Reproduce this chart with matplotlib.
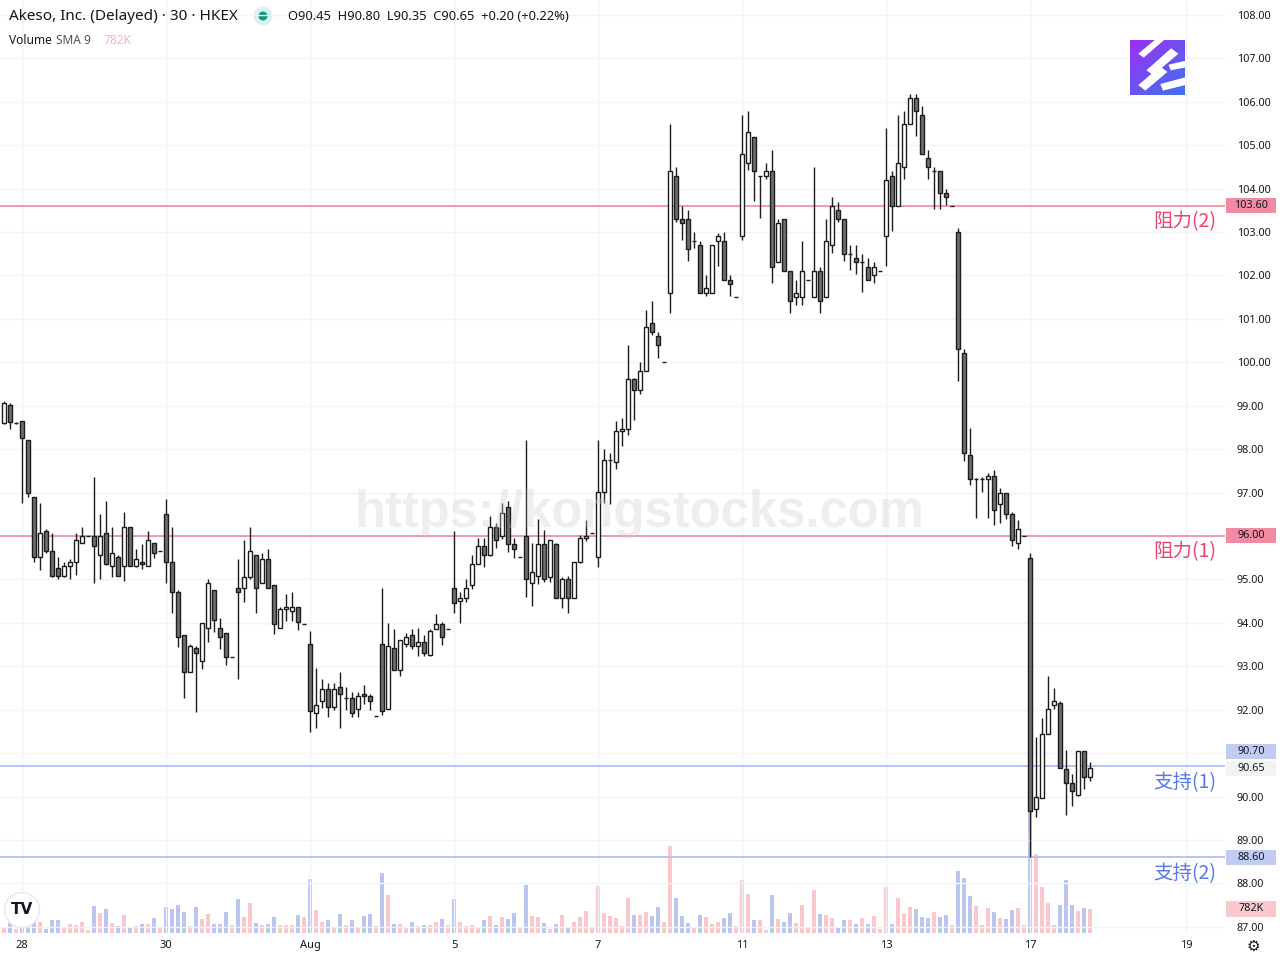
import matplotlib
matplotlib.use('Agg')
import matplotlib.pyplot as plt
import matplotlib.transforms as mtrans
from matplotlib.patches import Rectangle, Circle, Polygon
import numpy as np

# ---------------- data (30-minute bars, index 0 = first bar of Jul 28) ----------------
bar_index = list(range(-3, 179))

opens = [
    98.60, 99.02, 98.60,
    98.64, 98.20, 96.89, 95.51, 96.11, 95.65, 95.26, 95.09, 95.30, 95.39, 95.85, 95.99,
    95.99, 95.56, 96.06, 95.30, 95.51, 95.30, 96.20, 95.30, 95.39, 95.30, 95.85, 95.65,
    96.50, 95.39, 94.70, 93.71, 92.86, 93.41, 93.11, 93.89, 94.75, 93.89, 93.76, 93.21,
    94.80, 94.80, 95.05, 95.56, 94.91, 95.46, 94.87, 93.89, 94.31, 94.27, 94.36, 93.97,
    93.51, 91.92, 92.21, 92.47, 92.06, 92.52, 92.27, 92.27, 92.01, 92.36, 92.31, 91.85,
    93.51, 92.01, 93.41, 92.91, 93.51, 93.71, 93.46, 93.55, 93.25, 93.85, 93.97, 93.85,
    94.80, 94.50, 94.57, 94.87, 95.35, 95.76, 95.56, 96.20, 95.99, 96.66, 95.81, 95.51,
    95.99, 94.91, 95.09, 95.81, 95.05, 95.81, 94.57, 95.00, 94.57, 95.39, 95.95, 96.06,
    95.51, 97.01, 97.74, 97.70, 98.41, 98.46, 99.61, 99.36, 99.79, 100.90, 100.60, 100.00,
    101.59, 104.29, 103.30, 103.30, 102.79, 102.70, 101.59, 101.59, 102.79, 102.79, 101.89, 101.50,
    102.90, 104.58, 105.19, 104.29, 104.29, 104.40, 102.30, 103.30, 102.10, 101.50, 101.50, 101.89,
    101.50, 102.10, 101.50, 102.70, 103.50, 103.30, 102.49, 102.40, 102.30, 102.19, 102.00, 102.10,
    102.90, 104.29, 103.60, 104.49, 105.48, 106.08, 105.69, 104.70, 104.40, 104.40, 103.89, 103.60,
    102.99, 100.21, 97.86, 97.31, 97.31, 97.31, 97.39, 96.74, 97.00, 96.50, 95.85, 95.99,
    95.50, 89.71, 89.96, 91.45, 92.10, 92.16, 90.63, 90.31, 90.04, 91.05, 90.45,
]

highs = [
    99.10, 99.06, 98.62,
    98.64, 98.20, 96.89, 96.75, 96.15, 96.06, 95.51, 95.40, 95.46, 96.06, 96.20, 95.99,
    97.35, 96.50, 96.80, 96.20, 95.56, 96.55, 96.20, 95.69, 95.81, 96.11, 95.85, 95.65,
    96.85, 96.20, 94.75, 93.71, 93.51, 93.46, 94.00, 95.00, 94.75, 94.11, 93.76, 93.21,
    95.46, 95.90, 96.21, 95.56, 95.60, 95.69, 94.87, 94.36, 94.66, 94.70, 94.36, 93.97,
    93.81, 92.95, 92.70, 92.61, 92.61, 92.86, 92.52, 92.40, 92.40, 92.57, 92.36, 91.85,
    94.80, 93.99, 93.85, 93.60, 93.76, 93.85, 93.89, 93.71, 93.85, 94.20, 94.01, 93.85,
    96.11, 94.70, 95.00, 95.56, 95.95, 95.95, 96.45, 96.29, 96.75, 96.80, 95.95, 95.51,
    98.20, 95.85, 96.38, 96.13, 95.90, 95.85, 95.05, 95.09, 95.39, 96.02, 96.37, 96.06,
    98.21, 98.00, 97.91, 98.64, 98.71, 100.39, 99.64, 100.00, 101.20, 101.41, 100.69, 100.00,
    105.48, 104.49, 103.60, 103.50, 103.00, 102.79, 102.00, 102.70, 102.98, 103.00, 102.00, 101.50,
    105.69, 105.78, 105.19, 104.29, 104.58, 104.88, 103.30, 103.30, 102.10, 101.89, 102.79, 101.89,
    104.49, 102.19, 103.30, 103.81, 103.69, 103.30, 102.70, 102.70, 102.49, 102.40, 102.30, 102.10,
    105.39, 104.40, 105.69, 105.78, 106.19, 106.19, 105.90, 104.88, 104.49, 104.40, 103.98, 103.60,
    103.09, 100.30, 98.48, 97.34, 97.36, 97.45, 97.52, 97.11, 97.00, 96.55, 96.36, 95.99,
    95.61, 91.37, 91.81, 92.77, 92.51, 92.21, 91.07, 90.51, 91.05, 91.05, 90.80,
]

lows = [
    98.57, 98.46, 98.58,
    96.77, 96.90, 95.41, 95.22, 95.60, 95.06, 95.02, 95.06, 95.02, 95.11, 95.85, 95.99,
    94.92, 95.02, 95.33, 95.06, 95.09, 94.97, 95.30, 95.28, 95.23, 95.30, 95.49, 95.65,
    94.92, 94.22, 93.44, 92.28, 92.86, 91.94, 92.93, 93.57, 93.79, 93.39, 93.02, 93.21,
    92.71, 94.47, 95.00, 94.22, 94.91, 94.80, 93.74, 93.89, 94.04, 94.04, 93.83, 93.97,
    91.48, 91.57, 92.03, 91.82, 91.99, 91.57, 91.99, 91.82, 91.82, 92.13, 91.99, 91.85,
    91.88, 92.01, 92.91, 92.78, 93.44, 93.39, 93.23, 93.23, 93.23, 93.85, 93.48, 93.85,
    94.22, 93.99, 94.47, 94.77, 95.35, 95.28, 95.55, 95.72, 95.92, 95.62, 95.49, 95.51,
    94.59, 94.38, 94.89, 94.93, 94.93, 94.57, 94.34, 94.22, 94.57, 95.37, 95.88, 96.06,
    95.28, 96.75, 96.73, 97.54, 98.07, 98.32, 98.67, 99.26, 99.79, 100.62, 100.11, 100.00,
    101.13, 103.22, 102.81, 102.33, 102.63, 101.59, 101.53, 101.59, 102.21, 101.89, 101.53, 101.50,
    102.81, 104.42, 103.71, 103.32, 104.22, 101.82, 102.30, 102.10, 101.13, 101.31, 101.31, 101.89,
    101.50, 101.13, 101.50, 102.51, 103.22, 102.33, 102.12, 102.03, 101.62, 101.89, 101.82, 102.10,
    102.21, 103.02, 103.60, 104.22, 105.48, 105.21, 104.79, 104.22, 103.53, 103.53, 103.62, 103.60,
    99.56, 97.72, 97.17, 96.42, 97.02, 96.42, 96.26, 96.31, 96.38, 95.78, 95.70, 95.99,
    88.60, 89.53, 89.96, 91.45, 92.01, 90.65, 89.58, 89.78, 90.02, 90.18, 90.35,
]

closes = [
    99.06, 98.63, 98.60,
    98.25, 97.00, 95.51, 96.06, 95.65, 95.09, 95.09, 95.30, 95.39, 95.90, 95.99, 95.99,
    95.76, 95.99, 95.35, 95.60, 95.09, 96.20, 95.30, 95.46, 95.35, 95.90, 95.60, 95.65,
    95.39, 94.70, 93.67, 92.86, 93.46, 93.30, 94.00, 94.91, 94.07, 93.67, 93.21, 93.21,
    94.70, 95.05, 95.65, 94.80, 95.46, 94.80, 93.97, 94.31, 94.36, 94.36, 94.01, 93.97,
    91.97, 92.10, 92.47, 92.06, 92.47, 92.36, 92.27, 91.92, 92.31, 92.31, 92.21, 91.85,
    91.97, 93.46, 92.91, 93.60, 93.67, 93.46, 93.55, 93.30, 93.81, 93.97, 93.67, 93.85,
    94.45, 94.57, 94.80, 95.35, 95.76, 95.56, 96.20, 95.90, 96.52, 95.81, 95.69, 95.51,
    95.00, 95.16, 95.81, 95.00, 95.90, 94.57, 95.00, 94.57, 95.39, 95.95, 95.99, 96.06,
    97.01, 97.74, 97.74, 98.41, 98.46, 99.61, 99.36, 99.79, 100.81, 100.69, 100.39, 100.00,
    104.40, 103.30, 103.20, 102.60, 102.79, 101.59, 101.70, 102.70, 102.90, 101.89, 101.80, 101.50,
    104.79, 105.30, 104.40, 104.29, 104.40, 102.19, 103.20, 102.10, 101.41, 101.59, 102.10, 101.89,
    102.10, 101.41, 102.79, 103.60, 103.30, 102.49, 102.49, 102.30, 102.30, 101.89, 102.19, 102.10,
    104.19, 103.60, 104.58, 105.48, 106.08, 105.78, 104.79, 104.49, 104.40, 103.89, 103.81, 103.60,
    100.30, 97.91, 97.31, 97.31, 97.31, 97.39, 96.59, 97.00, 96.50, 95.90, 96.15, 95.99,
    89.66, 90.00, 91.45, 92.01, 92.21, 90.65, 90.31, 90.12, 91.05, 90.46, 90.65,
]

volumes_k = [
    204, 340, 136,
    510, 567, 453, 374, 136, 408, 408, 204, 306, 272, 374, 102,
    884, 646, 782, 340, 238, 578, 204, 238, 306, 306, 476, 170,
    850, 782, 918, 680, 238, 850, 442, 612, 306, 306, 680, 272,
    1122, 510, 986, 340, 272, 306, 510, 272, 272, 272, 578, 510,
    1767, 748, 374, 408, 204, 612, 272, 408, 204, 544, 612, 238,
    1971, 1224, 306, 306, 170, 374, 238, 272, 272, 374, 442, 272,
    1122, 374, 238, 272, 170, 408, 544, 272, 510, 442, 646, 170,
    1564, 544, 510, 340, 136, 306, 578, 204, 374, 510, 714, 170,
    1530, 646, 544, 476, 238, 1156, 578, 578, 680, 544, 850, 374,
    2821, 1156, 544, 340, 170, 578, 510, 306, 374, 476, 646, 238,
    1733, 1258, 408, 408, 102, 1224, 442, 374, 646, 340, 918, 170,
    1394, 612, 578, 476, 204, 408, 408, 306, 476, 306, 544, 136,
    1496, 306, 1156, 612, 850, 782, 510, 476, 680, 510, 578, 272,
    2005, 1801, 1190, 884, 272, 816, 680, 476, 442, 748, 816, 272,
    3966, 2583, 1496, 986, 272, 918, 1733, 918, 714, 816, 782,
]

date_tick_index = [0, 24, 48, 72, 96, 120, 144, 168, 194]
date_tick_labels = ['28', '30', 'Aug', '5', '7', '11', '13', '17', '19']

resistance_levels = [103.60, 96.00]
resistance_labels = ['阻力(2)', '阻力(1)']
support_levels = [90.70, 88.60]
support_labels = ['支持(1)', '支持(2)']
last_price = 90.65
last_volume_k = 782

# ---------------- styling ----------------
W, H = 1280, 960
fig = plt.figure(figsize=(W / 100, H / 100), dpi=100)
fig.patch.set_facecolor('white')
rect = [0, 27 / H, 1225 / W, 933 / H]
vax = fig.add_axes(rect, zorder=0)
ax = fig.add_axes(rect, zorder=1)
ax.patch.set_visible(False)

XMIN, XMAX = -3.667, 200.5
ax.set_xlim(XMIN, XMAX)
vax.set_xlim(XMIN, XMAX)
ax.set_ylim(86.857, 108.344)
vax.set_ylim(0, 30400)

TXT = '#131722'
UP_VOL = '#fbc9cd'
DN_VOL = '#bac6f0'
DN_FILL = '#6f6f6f'
EDGE = '#1c1c1c'
PINK_LINE = '#f2879f'
BLUE_LINE = '#b7c3f1'

o = np.array(opens); h = np.array(highs); l = np.array(lows); c = np.array(closes)
x = np.array(bar_index)
up = c >= o

# volume
vax.bar(x, volumes_k, width=0.8, color=[UP_VOL if u else DN_VOL for u in up], linewidth=0)
vax.axis('off')

# grid
ax.set_axisbelow(True)
ax.set_yticks(list(range(87, 109)))
ax.set_yticklabels(['' if v in (91, 96) else f'{v:.2f}' for v in range(87, 109)])
ax.set_xticks(date_tick_index)
ax.set_xticklabels(date_tick_labels)
ax.grid(True, color='#f0f3fa', linewidth=1.0)
for s in ax.spines.values():
    s.set_visible(False)
ax.yaxis.tick_right()
ax.tick_params(axis='y', length=0, pad=8.5, labelsize=7.8, labelcolor=TXT)
ax.tick_params(axis='x', length=0, pad=5, labelsize=8, labelcolor=TXT)
for lab in ax.get_yticklabels() + ax.get_xticklabels():
    lab.set_fontfamily('Noto Sans')

# level lines
for lv in resistance_levels:
    ax.axhline(lv, color=PINK_LINE, lw=1.2, zorder=1.8)
for lv in support_levels:
    ax.axhline(lv, color=BLUE_LINE, lw=1.4, zorder=1.8)

# candles
ax.vlines(x, l, h, color=EDGE, linewidth=1.0, zorder=2)
body_bottom = np.minimum(o, c)
body_height = np.abs(c - o)
ax.bar(x, body_height, bottom=body_bottom, width=0.64,
       color=['white' if u else DN_FILL for u in up],
       edgecolor=EDGE, linewidth=1.0, zorder=3)

# level text labels
cjk = ['Noto Sans CJK SC', 'DejaVu Sans']
for lv, t in zip(resistance_levels, resistance_labels):
    ax.annotate(t, xy=(1, lv), xycoords=('axes fraction', 'data'),
                xytext=(-9, -16), textcoords='offset pixels', ha='right', va='center',
                fontsize=14, color='#f0416c', family=cjk, zorder=5)
for lv, t in zip(support_levels, support_labels):
    ax.annotate(t, xy=(1, lv), xycoords=('axes fraction', 'data'),
                xytext=(-9, -16), textcoords='offset pixels', ha='right', va='center',
                fontsize=14, color='#5878e8', family=cjk, zorder=5)

# right-axis boxed labels
def axis_box(axis, yval, text, fc, hdata):
    tr = mtrans.blended_transform_factory(axis.transAxes, axis.transData)
    axis.add_patch(Rectangle((1.0008, yval - hdata / 2), 0.0408, hdata, transform=tr,
                             facecolor=fc, edgecolor='none', clip_on=False, zorder=6))
    axis.text(1.0008 + 0.0204, yval, text, transform=tr, ha='center', va='center',
              fontsize=7.8, color=TXT, family='Noto Sans', clip_on=False, zorder=7)

ph = 15 / 43.42
axis_box(ax, resistance_levels[0], f'{resistance_levels[0]:.2f}', '#f28aa3', ph)
axis_box(ax, resistance_levels[1], f'{resistance_levels[1]:.2f}', '#f28aa3', ph)
axis_box(ax, support_levels[0] + 0.33, f'{support_levels[0]:.2f}', '#c2ccf3', ph)
axis_box(ax, last_price, f'{last_price:.2f}', '#f2f3f5', ph)
axis_box(ax, support_levels[1], f'{support_levels[1]:.2f}', '#c2ccf3', ph)
axis_box(vax, last_volume_k, f'{last_volume_k}K', '#fbc9cd', 15 * 32.6)

# watermark
ax.text(0.5216, 0.450, 'https://kongstocks.com', transform=ax.transAxes,
        ha='center', va='center', fontsize=36.5, fontweight='bold',
        family='Liberation Sans', color='#d0d0d0', alpha=0.36, zorder=8)

# header
fig.text(9 / W, 1 - 16 / H, 'Akeso, Inc. (Delayed) · 30 · HKEX', ha='left', va='center',
         fontsize=11, color=TXT, family='Noto Sans')
fig.add_artist(Circle((2.63, 9.44), 0.095, transform=fig.dpi_scale_trans,
                      facecolor='#d8f1ea', edgecolor='none'))
fig.add_artist(Circle((2.63, 9.44), 0.045, transform=fig.dpi_scale_trans,
                      facecolor='#089981', edgecolor='none'))
fig.text(288 / W, 1 - 16 / H, 'O90.45  H90.80  L90.35  C90.65  +0.20 (+0.22%)',
         ha='left', va='center', fontsize=9.3, color=TXT, family='Noto Sans')
fig.text(9 / W, 1 - 40 / H, 'Volume', ha='left', va='center', fontsize=8.6,
         color=TXT, family='Noto Sans')
fig.text(56 / W, 1 - 40 / H, 'SMA 9', ha='left', va='center', fontsize=8.6,
         color='#50535e', family='Noto Sans')
fig.text(104 / W, 1 - 40 / H, '782K', ha='left', va='center', fontsize=8.6,
         color='#f7b3ba', family='Noto Sans')

# TradingView logo
fig.add_artist(Circle((0.22, 0.50), 0.175, transform=fig.dpi_scale_trans,
                      facecolor='white', edgecolor='#e6e8ee', linewidth=1.0, zorder=10))
fig.text(22 / W, 1 - 910 / H, 'TV', ha='center', va='center', fontsize=11,
         fontweight='heavy', color=TXT, family='DejaVu Sans', zorder=11)

# gear icon
fig.text(1253 / W, 1 - 946 / H, '⚙', ha='center', va='center', fontsize=11,
         color=TXT, family='DejaVu Sans')

# site logo top right
lax = fig.add_axes([1130 / W, 1 - 95 / H, 55 / W, 55 / H], zorder=12)
gy, gx = np.mgrid[0:1:64j, 0:1:64j]
t = np.clip(0.55 * gy + 0.45 * gx, 0, 1)
c1 = np.array([0.62, 0.18, 0.95]); c2 = np.array([0.25, 0.45, 0.95])
img = c1[None, None, :] * (1 - t[..., None]) + c2[None, None, :] * t[..., None]
lax.imshow(img, extent=(0, 1, 0, 1), origin='upper')
for poly in [
    [(0.15, 0.75), (0.45, 1.0), (0.62, 1.0), (0.25, 0.68)],
    [(0.30, 0.45), (0.75, 0.85), (0.88, 0.75), (0.42, 0.36)],
    [(0.15, 0.18), (0.55, 0.52), (0.68, 0.42), (0.28, 0.08)],
    [(0.55, 0.20), (1.0, 0.32), (1.0, 0.18), (0.60, 0.08)],
    [(0.70, 0.55), (1.0, 0.62), (1.0, 0.50), (0.74, 0.45)],
]:
    lax.add_patch(Polygon(poly, closed=True, facecolor='white', edgecolor='none'))
lax.set_xlim(0, 1); lax.set_ylim(0, 1)
lax.axis('off')

fig.savefig('out.png', dpi=100)
